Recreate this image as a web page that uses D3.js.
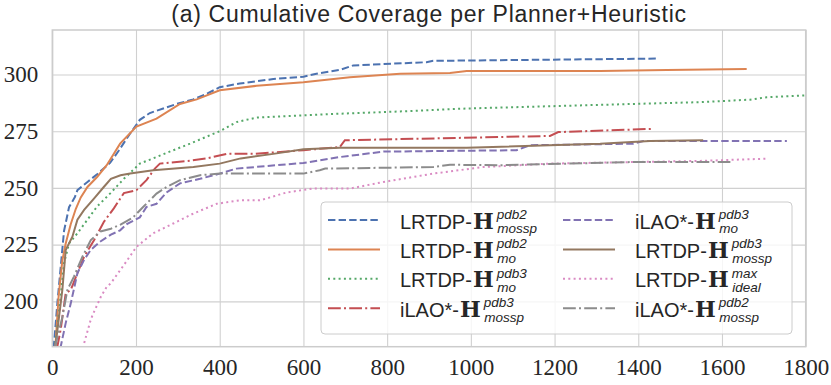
<!DOCTYPE html>
<html>
<head>
<meta charset="utf-8">
<script src="https://cdn.jsdelivr.net/npm/d3@7"></script>
<style>
  body { margin: 0; background: #fff; }
  svg { display: block; }
  .tick-label { font-family: "Liberation Serif", "DejaVu Serif", serif; font-size: 23px; }
</style>
</head>
<body>
<div id="container"></div>
<script>
/* CONSTANTS AND GLOBALS */
const width = 831;
const height = 385;
const margin = { top: 30, right: 25.3, bottom: 38.3, left: 52.3 };

/* DATA: [time, cumulative coverage] */
const lrtdpPdb2Mossp = [[0,170],[4,181],[12,199],[20,215],[28,231],[40,241.5],[54,246],[60,249],[84,252.6],[107,256],[138,261],[159,266.5],[186,274],[209,280],[233,283],[265,285],[297,287],[337,289],[369,291.5],[400,294.4],[448,296],[528,298],[600,299],[631,300.3],[687,302],[719,304],[894,305.4],[910,306],[1448,307]];
const lrtdpPdb2Mo = [[0,170],[8,181.5],[15,202],[24,218],[32,225.5],[44,234],[56,240.7],[68,245.8],[84,250.4],[107,254.8],[130,260],[162,269.5],[201,277],[249,280.5],[305,287],[345,289],[400,293],[488,295],[600,296.6],[711,298.8],[831,300.3],[950,300.6],[990,301.5],[1309,301.5],[1468,302],[1659,302.4]];
const lrtdpPdb3Mo = [[0,170],[8,182],[20,202],[28,216.7],[40,225.5],[60,230],[84,236],[107,241.8],[139,247.7],[171,254],[209,260.7],[249,263.6],[289,266.6],[329,269.5],[400,275],[440,279],[488,281],[600,282],[687,282.7],[831,283.7],[990,285],[1269,286.4],[1388,287],[1548,287.8],[1667,288.9],[1707,290],[1800,290.8]];
const ilaoPdb3Mossp = [[5,170],[12,180],[20,187.5],[32,203.6],[44,205],[60,212.4],[76,219.7],[100,227],[123,235],[147,241],[171,247.7],[201,249],[225,253.4],[245,258.5],[257,260.7],[329,262],[369,263],[416,265],[480,265],[600,266.6],[687,268],[699,271],[831,271.5],[1189,272.9],[1209,274.6],[1430,276]];
const ilaoPdb3Mo = [[10,170],[20,180],[32,190.4],[44,199],[60,212.4],[76,218.3],[92,222.7],[115,226.4],[140,229.4],[162,231.3],[178,234],[209,237],[225,241.6],[249,243],[273,248],[305,252],[353,254],[400,256.3],[440,258.5],[600,261],[687,263.6],[791,266],[1109,266.6],[1141,268.8],[1388,269.5],[1412,270.7],[1755,270.7]];
const lrtdpPdb3Mossp = [[0,170],[8,181],[24,205],[32,222.6],[48,228.5],[60,236],[76,240.3],[100,245.4],[123,250.4],[140,254],[163,255.6],[186,256.3],[241,257.8],[337,259.2],[400,260.7],[450,263],[528,265],[600,267],[687,267.7],[990,267.7],[1309,269.5],[1428,270.7],[1555,271]];
const lrtdpMaxIdeal = [[72,170],[76,181.5],[92,192],[98,194.7],[116,202],[130,206.4],[140,208],[171,216],[201,224],[241,230],[289,234.3],[337,238.7],[393,243],[448,244.5],[496,244.5],[560,248],[623,249.7],[711,249.7],[791,252.6],[910,256.3],[1030,259.2],[1189,260.7],[1388,261.4],[1548,261.9],[1711,262.9]];
const ilaoPdb2Mossp = [[0,170],[8,181],[24,193],[36,205],[52,211],[72,219.7],[92,227],[115,230.8],[140,232],[163,233.8],[193,237],[217,241.6],[249,247.5],[273,250.4],[305,253.4],[353,255.6],[400,256.3],[600,256.3],[639,257.8],[652,258.5],[910,259.2],[950,260.2],[1070,260],[1388,261.4],[1620,261.4]];

const seriesData = [lrtdpPdb2Mossp, lrtdpPdb2Mo, lrtdpPdb3Mo, ilaoPdb3Mossp, ilaoPdb3Mo, lrtdpPdb3Mossp, lrtdpMaxIdeal, ilaoPdb2Mossp];
const planners = ["LRTDP-", "LRTDP-", "LRTDP-", "iLAO*-", "iLAO*-", "LRTDP-", "LRTDP-", "iLAO*-"];
const heurSup = ["pdb2", "pdb2", "pdb3", "pdb3", "pdb3", "pdb3", "max", "pdb2"];
const heurSub = ["mossp", "mo", "mo", "mossp", "mo", "mossp", "ideal", "mossp"];

const xTicks = [0, 200, 400, 600, 800, 1000, 1200, 1400, 1600, 1800];
const yTicks = [200, 225, 250, 275, 300];
const titleText = "(a) Cumulative Coverage per Planner+Heuristic";

// styles
const colors = ["#4c72b0", "#dd8452", "#55a868", "#c44e52", "#8172b3", "#937860", "#da8bc3", "#8c8c8c"];
const dashes = ["7.4,3.2", null, "2,3.3", "12.8,3.2,2,3.2", "7.4,3.2", null, "2,3.3", "12.8,3.2,2,3.2"];
const sans = "'Liberation Sans', sans-serif";

/* SVG */
const svg = d3.select("#container")
  .append("svg")
  .attr("width", width)
  .attr("height", height);

// SCALES
const x = d3.scaleLinear()
  .domain([0, 1800])
  .range([margin.left, width - margin.right]);

const y = d3.scaleLinear()
  .domain([180, 319.6])
  .range([height - margin.bottom, margin.top]);

const plotW = width - margin.right - margin.left;
const plotH = height - margin.bottom - margin.top;

// grid
svg.append("g")
  .attr("transform", `translate(0,${height - margin.bottom})`)
  .call(d3.axisBottom(x).tickValues(xTicks).tickSize(-plotH).tickFormat(""))
  .call(g => g.select(".domain").remove())
  .selectAll("line").attr("stroke", "#d0d0d0").attr("stroke-width", 1.1);

svg.append("g")
  .attr("transform", `translate(${margin.left},0)`)
  .call(d3.axisLeft(y).tickValues(yTicks).tickSize(-plotW).tickFormat(""))
  .call(g => g.select(".domain").remove())
  .selectAll("line").attr("stroke", "#d0d0d0").attr("stroke-width", 1.1);

// tick labels
const xAxis = svg.append("g")
  .attr("transform", `translate(0,${height - margin.bottom})`)
  .call(d3.axisBottom(x).tickValues(xTicks).tickSize(0).tickPadding(12).tickFormat(d3.format("d")));
xAxis.select(".domain").remove();
xAxis.attr("font-family", null).attr("font-size", null);
xAxis.selectAll("text")
  .attr("class", "tick-label")
  .attr("fill", "#262626");

const yAxis = svg.append("g")
  .attr("transform", `translate(${margin.left},0)`)
  .call(d3.axisLeft(y).tickValues(yTicks).tickSize(0).tickPadding(14));
yAxis.select(".domain").remove();
yAxis.attr("font-family", null).attr("font-size", null);
yAxis.selectAll("text")
  .attr("class", "tick-label")
  .attr("fill", "#262626");

// lines
svg.append("clipPath").attr("id", "clip")
  .append("rect")
  .attr("x", margin.left).attr("y", margin.top)
  .attr("width", plotW).attr("height", plotH);

const line = d3.line()
  .x(d => x(d[0]))
  .y(d => y(d[1]));

svg.append("g")
  .attr("clip-path", "url(#clip)")
  .selectAll("path")
  .data(seriesData)
  .enter()
  .append("path")
  .attr("d", line)
  .attr("fill", "none")
  .attr("stroke", (d, i) => colors[i])
  .attr("stroke-width", 2)
  .attr("stroke-dasharray", (d, i) => dashes[i]);

// frame
svg.append("rect")
  .attr("x", margin.left).attr("y", margin.top)
  .attr("width", plotW).attr("height", plotH)
  .attr("fill", "none")
  .attr("stroke", "#cccccc")
  .attr("stroke-width", 1.5);

// title
svg.append("text")
  .attr("x", x(900))
  .attr("y", 22)
  .attr("text-anchor", "middle")
  .style("font-family", sans)
  .style("font-size", "23px")
  .style("letter-spacing", "0.7px")
  .attr("fill", "#262626")
  .text(titleText);

// legend
const legend = svg.append("g");
legend.append("rect")
  .attr("x", 321).attr("y", 202)
  .attr("width", 471).attr("height", 132)
  .attr("rx", 4)
  .attr("fill", "white").attr("fill-opacity", 0.8)
  .attr("stroke", "#cccccc").attr("stroke-width", 1);

seriesData.forEach((d, i) => {
  const col = Math.floor(i / 4), row = i % 4;
  const lx = col ? 563 : 328;
  const ly = 220 + row * 29.4;
  const g = legend.append("g");
  g.append("line")
    .attr("x1", lx).attr("x2", lx + 52)
    .attr("y1", ly).attr("y2", ly)
    .attr("stroke", colors[i])
    .attr("stroke-width", 2)
    .attr("stroke-dasharray", dashes[i]);
  const tx = lx + 72;
  const t = g.append("text")
    .attr("x", tx).attr("y", ly + 8.5)
    .style("font-family", sans)
    .style("font-size", "20px")
    .attr("fill", "#262626");
  t.append("tspan").text(planners[i]);
  t.append("tspan")
    .attr("dx", 1)
    .style("font-family", "'DejaVu Serif', serif")
    .style("font-weight", "bold")
    .style("font-size", "22px")
    .style("letter-spacing", "2px")
    .text("H");
  const w = t.node().getComputedTextLength() + 1;
  g.append("text")
    .attr("x", tx + w + 1).attr("y", ly - 1.3)
    .style("font-family", sans)
    .style("font-style", "italic")
    .style("font-size", "13.5px")
    .attr("fill", "#262626")
    .text(heurSup[i]);
  g.append("text")
    .attr("x", tx + w + 1.5).attr("y", ly + 13.4)
    .style("font-family", sans)
    .style("font-style", "italic")
    .style("font-size", "13.5px")
    .attr("fill", "#262626")
    .text(heurSub[i]);
});
</script>
</body>
</html>
